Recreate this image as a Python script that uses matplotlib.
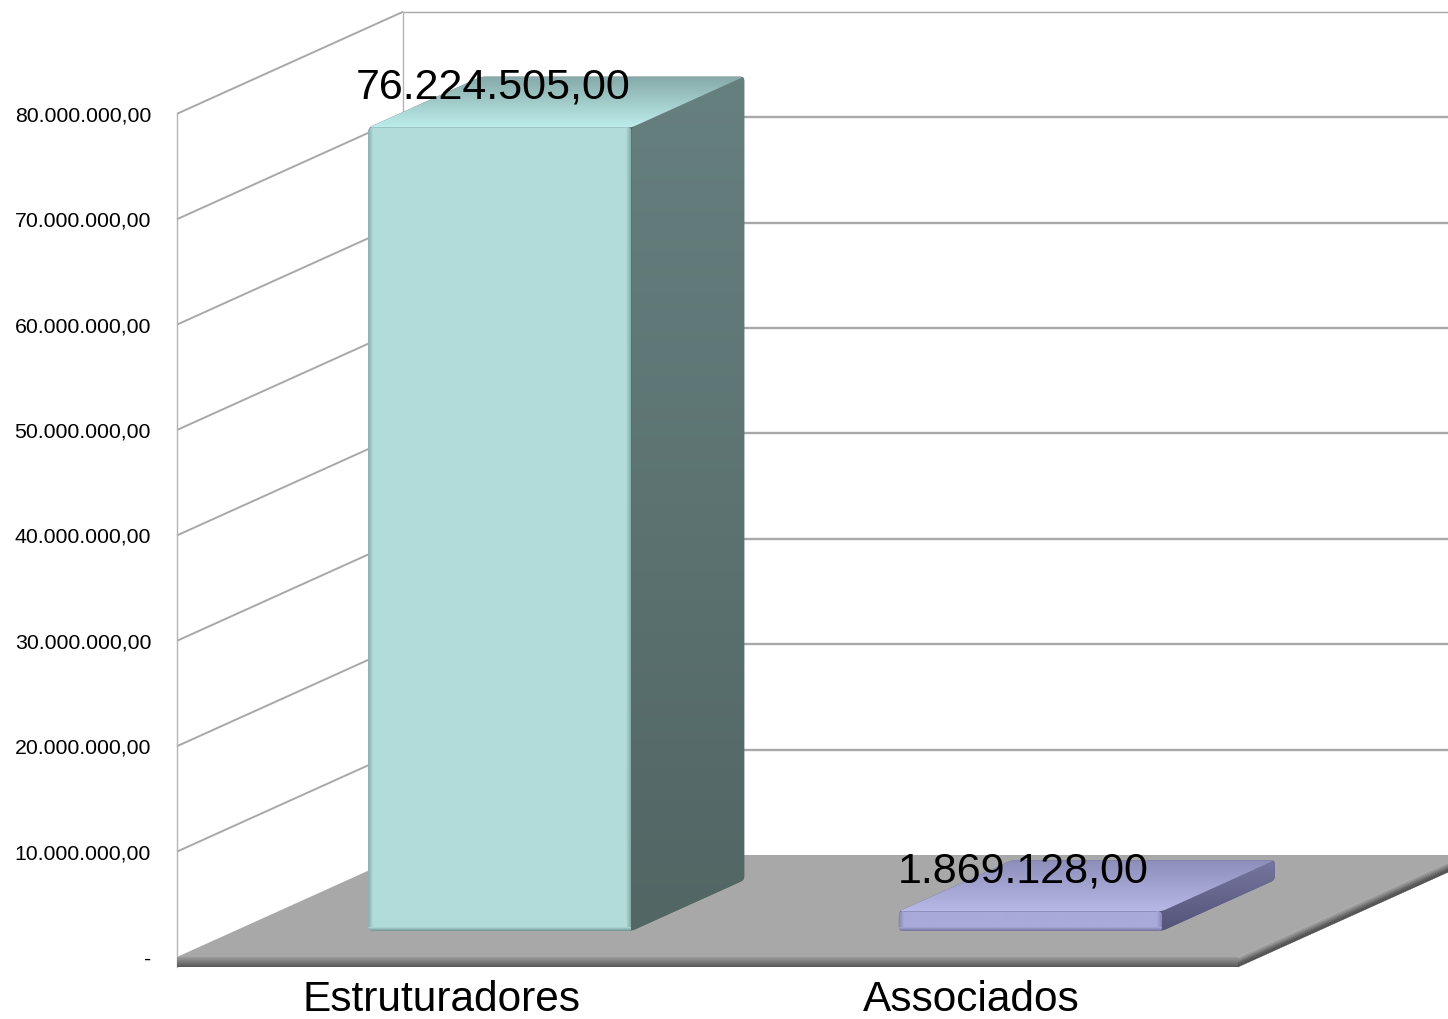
import numpy as np
import matplotlib
matplotlib.use('Agg')
import matplotlib.pyplot as plt
from matplotlib.colors import LinearSegmentedColormap
from matplotlib.patches import Polygon

plt.rcParams['font.family'] = ['Liberation Sans', 'DejaVu Sans']

categories = ['Estruturadores', 'Associados']
values = [76224505, 1869128]
value_labels = ['76.224.505,00', '1.869.128,00']
ticks = [0, 10000000, 20000000, 30000000, 40000000, 50000000, 60000000, 70000000, 80000000]
tick_labels = ['-', '10.000.000,00', '20.000.000,00', '30.000.000,00', '40.000.000,00',
               '50.000.000,00', '60.000.000,00', '70.000.000,00', '80.000.000,00']

# sizes of one pixel in data units
px_x = 1 / 530.5
px_y = 1e7 / 105.4
depth_x = 226 * px_x
depth_v = 102 * px_y
bar_w = 263 * px_x
d_front = 0.255
d_back = 0.755

bar_colors = [
    {'face': '#b1dcda', 'top_back': '#86aaa9', 'top_front': '#bdeeec', 'side_top': '#66807f',
     'side_bot': '#526664', 'edge': '#6f9391', 'edge2': '#84aaa9'},
    {'face': '#a9a9da', 'top_back': '#8d8dba', 'top_front': '#b8b8e6', 'side_top': '#75759f',
     'side_bot': '#55557a', 'edge': '#71719a', 'edge2': '#8585b5'},
]


def proj(x, v, d):
    return x + d * depth_x, v + d * depth_v


def grad(ax, verts, c0, c1, vertical=True, z=3):
    # c0 = top / left colour, c1 = bottom / right colour
    verts = np.array(verts)
    cmap = LinearSegmentedColormap.from_list('g', [c0, c1])
    ramp = np.linspace(0, 1, 128)
    arr = ramp[:, None] if vertical else ramp[None, :]
    ext = [verts[:, 0].min(), verts[:, 0].max(), verts[:, 1].min(), verts[:, 1].max()]
    im = ax.imshow(arr, cmap=cmap, extent=ext, origin='upper', aspect='auto', zorder=z,
                   interpolation='bilinear')
    im.set_clip_path(Polygon(verts, closed=True, transform=ax.transData))


def chamfer(verts, cut=4):
    # knock the sharp corners off so that the box looks rounded
    out = []
    pts = [np.array([x / px_x, y / px_y]) for x, y in verts]
    n = len(pts)
    for i in range(n):
        p, a, b = pts[i], pts[i - 1], pts[(i + 1) % n]
        u = (a - p) / np.linalg.norm(a - p)
        w = (b - p) / np.linalg.norm(b - p)
        for t in np.linspace(0, 1, 5):
            q = (1 - t) ** 2 * (p + u * cut) + 2 * t * (1 - t) * p + t ** 2 * (p + w * cut)
            out.append((q[0] * px_x, q[1] * px_y))
    return out


def draw_bar(ax, cat, val, col, z):
    l = cat - bar_w / 2
    r = cat + bar_w / 2
    fl = proj(l, 0, d_front)
    fr = proj(r, 0, d_front)
    tl = proj(l, val, d_front)
    tr = proj(r, val, d_front)
    bl_back = proj(l, val, d_back)
    br_back = proj(r, val, d_back)
    gr_back = proj(r, 0, d_back)

    # solid backing with rounded corners, so no grid line shows through the seams
    ax.add_patch(Polygon(chamfer([fl, fr, gr_back, br_back, bl_back, tl], 4), closed=True,
                         fc=col['side_bot'], ec='none', zorder=z - 0.1))

    side = chamfer([fr, gr_back, br_back, tr], 4)
    top = chamfer([tl, tr, br_back, bl_back], 4)
    grad(ax, side, col['side_top'], col['side_bot'], z=z)
    grad(ax, top, col['top_back'], col['top_front'], z=z + 0.1)

    front = chamfer([fl, fr, tr, tl], 4)
    grad(ax, front, col['face'], col['face'], z=z + 0.2)
    s = 5
    grad(ax, [(fl[0], fl[1]), (fl[0] + s * px_x, fl[1]), (tl[0] + s * px_x, tl[1]), tl],
         col['edge2'], col['face'], vertical=False, z=z + 0.3)
    grad(ax, [(fr[0] - s * px_x, fr[1]), fr, tr, (tr[0] - s * px_x, tr[1])],
         col['face'], col['edge2'], vertical=False, z=z + 0.3)
    grad(ax, [fl, fr, (fr[0], fr[1] + 4 * px_y), (fl[0], fl[1] + 4 * px_y)],
         col['face'], col['edge'], z=z + 0.4)
    # clip strips to the rounded outline
    for im in ax.images[-3:]:
        im.set_clip_path(Polygon(front, closed=True, transform=ax.transData))


fig = plt.figure(figsize=(14.48, 10.19), dpi=100)
ax = fig.add_axes([0, 0, 1, 1])
ax.axis('off')

x_min = -0.5 - 177 * px_x
x_max = -0.5 + (1448 - 177) * px_x
v_max = 957 * px_y
v_min = -(1019 - 957) * px_y

grid_col = '#a8a8a8'

# back wall and side wall lines
for t in ticks[1:]:
    x0, v0 = proj(-0.5, t, 0)
    x1, v1 = proj(-0.5, t, 1)
    ax.plot([x0, x1], [v0, v1], color=grid_col, lw=1.4, zorder=1, solid_capstyle='butt')
    lw_back = 1.0 if t == ticks[-1] else 1.7
    ax.plot([x1, x_max], [v1, v1], color=grid_col, lw=lw_back, zorder=1, solid_capstyle='butt')
ax.plot([-0.5, -0.5], [-10 * px_y, ticks[-1]], color='#b4b4b4', lw=1.0, zorder=1)
bx, bv = proj(-0.5, 0, 1)
ax.plot([bx, bx], [bv, bv + ticks[-1]], color='#b4b4b4', lw=1.0, zorder=1)

# floor with its thickness
floor_right = 1.5 + depth_x
floor = [(-0.5, 0), (1.5, 0), (floor_right, depth_v), (bx, depth_v)]
thick = 10 * px_y
ax.add_patch(Polygon(floor, closed=True, fc='#a8a8a8', ec='none', zorder=2))
grad(ax, [(-0.5, 0), (1.5, 0), (1.5, -thick), (-0.5, -thick)], '#9c9c9c', '#565656', z=2.1)
band_shades = ['#a4a4a4', '#989898', '#8a8a8a', '#7a7a7a', '#696969', '#5a5a5a', '#505050', '#4c4c4c']
for k, shade in enumerate(band_shades):
    a = k / len(band_shades) * thick
    b = (k + 1) / len(band_shades) * thick
    ax.add_patch(Polygon([(1.5, -a), (floor_right, depth_v - a), (floor_right, depth_v - b), (1.5, -b)],
                         closed=True, fc=shade, ec=shade, lw=0.3, zorder=2))

for i in range(len(categories)):
    draw_bar(ax, i, values[i], bar_colors[i], 3 + i)

# tick labels, value labels, category labels
for t, lab in zip(ticks, tick_labels):
    ax.annotate(lab, xy=(-0.5, t), xytext=(-26 / 1.389, -2 / 1.389), textcoords='offset points',
                ha='right', va='center', fontsize=15.3, color='black', zorder=10)
for i, lab in enumerate(value_labels):
    x, v = proj(i, values[i], d_front)
    ax.annotate(lab, xy=(x, v), xytext=(-7 / 1.389, 40 / 1.389), textcoords='offset points',
                ha='center', va='center', fontsize=31, color='black', zorder=10)
for i, lab in enumerate(categories):
    ax.annotate(lab, xy=(i, 0), xytext=(-1 / 1.389, -43 / 1.389), textcoords='offset points',
                ha='center', va='center', fontsize=30.5, color='black', zorder=10)

ax.set_xlim(x_min, x_max)
ax.set_ylim(v_min, v_max)

fig.savefig('out.png', dpi=100, facecolor='white')
